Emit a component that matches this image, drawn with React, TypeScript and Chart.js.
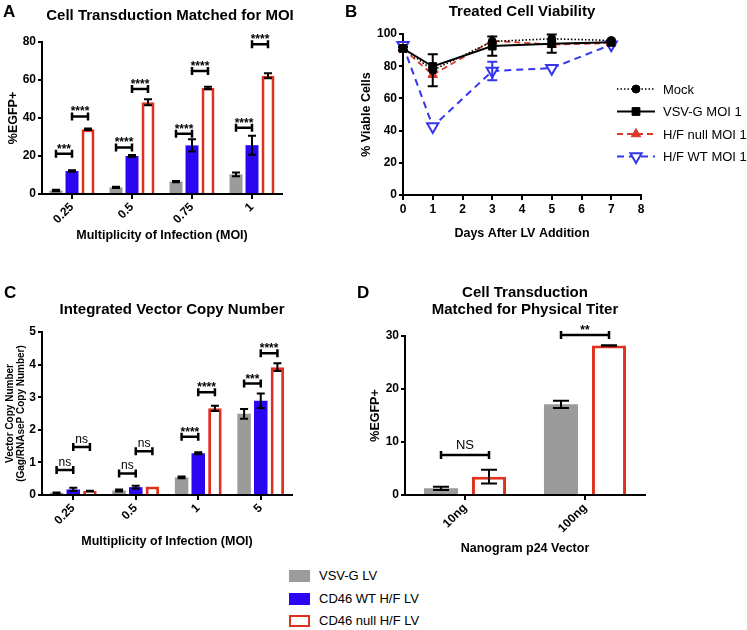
import React, { useEffect, useRef } from "react";
import { Chart, registerables } from "chart.js";

Chart.register(...registerables);

const FONT = '"Liberation Sans", Arial, Helvetica, sans-serif';
Chart.defaults.font.family = FONT;
Chart.defaults.color = "#000";

const GRAY = "#9b9b9b";
const BLUE = "#2a06f2";
const RED = "#e0301e";
const LINE_RED = "#d93a2c";
const LINE_BLUE = "#3535ee";

// ---------- Panel A: Cell Transduction Matched for MOI ----------
const moiA = ["0.25", "0.5", "0.75", "1"];
const vsvA = [1.9, 3.5, 6.5, 10.3];
const vsvAErr = [0.4, 0.3, 0.3, 1.0];
const wtA = [12.1, 20.0, 25.6, 25.7];
const wtAErr = [0.4, 0.5, 3.2, 5.0];
const nullA = [34.1, 48.3, 55.9, 62.2];
const nullAErr = [0.4, 1.6, 0.6, 1.3];
const yTicksA = [0, 20, 40, 60, 80];
// [category, datasetFrom, datasetTo, y, label]
const sigA: [number, number, number, number, string][] = [
  [0, 0, 1, 21.2, "***"],
  [0, 1, 2, 40.8, "****"],
  [1, 0, 1, 24.5, "****"],
  [1, 1, 2, 55.2, "****"],
  [2, 0, 1, 31.7, "****"],
  [2, 1, 2, 64.8, "****"],
  [3, 0, 1, 34.9, "****"],
  [3, 1, 2, 78.8, "****"],
];

// ---------- Panel B: Treated Cell Viability ----------
const daysB = [0, 1, 3, 5, 7];
const mockB = [91.3, 77.5, 95.4, 97.0, 96.0];
const mockBErr = [0, 10, 0, 0, 0];
const vsvB = [91.0, 79.8, 92.5, 94.0, 94.8];
const vsvBErr = [1, 0, 6, 5.7, 0];
const nullB = [90.8, 74.7, 95.8, 93.4, 94.4];
const nullBErr = [0, 0, 0, 0, 0];
const wtB = [93.0, 42.5, 77.0, 78.8, 93.4];
const wtBErr = [0, 0, 5.7, 0, 0];
const yTicksB = [0, 20, 40, 60, 80, 100];
const xTicksB = [0, 1, 2, 3, 4, 5, 6, 7, 8];
const seriesB = ["Mock", "VSV-G MOI 1", "H/F null MOI 1", "H/F WT MOI 1"];

// ---------- Panel C: Integrated Vector Copy Number ----------
const moiC = ["0.25", "0.5", "1", "5"];
const vsvC = [0.07, 0.14, 0.54, 2.49];
const vsvCErr = [0.01, 0.03, 0.03, 0.15];
const wtC = [0.17, 0.24, 1.28, 2.89];
const wtCErr = [0.05, 0.04, 0.03, 0.22];
const nullC = [0.12, 0.26, 2.66, 3.92];
const nullCErr = [0.01, 0, 0.08, 0.12];
const yTicksC = [0, 1, 2, 3, 4, 5];
const sigC: [number, number, number, number, string][] = [
  [0, 0, 1, 0.77, "ns"],
  [0, 1, 2, 1.47, "ns"],
  [1, 0, 1, 0.66, "ns"],
  [1, 1, 2, 1.34, "ns"],
  [2, 0, 1, 1.79, "****"],
  [2, 1, 2, 3.15, "****"],
  [3, 0, 1, 3.42, "***"],
  [3, 1, 2, 4.35, "****"],
];

// ---------- Panel D: Cell Transduction Matched for Physical Titer ----------
const doseD = ["10ng", "100ng"];
const vsvD = [1.26, 17.1];
const vsvDErr = [0.3, 0.7];
const nullD = [3.46, 28.2];
const nullDErr = [1.3, 0.05];
const yTicksD = [0, 10, 20, 30];
const sigD: [number, number, number, number, string][] = [
  [0, 0, 1, 7.55, "NS"],
  [1, 0, 1, 30.2, "**"],
];

const legendLabels = ["VSV-G LV", "CD46 WT H/F LV", "CD46 null H/F LV"];

// ---------- helpers ----------
type Sig = [number, number, number, number, string];

function makeAnnot(opt: {
  sig: Sig[];
  cap: number;
  errWidth: number;
  sigFont: number;
  sigGap: number;
  useDsColor?: boolean;
}) {
  return {
    id: "annot",
    afterDraw(chart: any) {
      const ctx = chart.ctx as CanvasRenderingContext2D;
      const ys = chart.scales.y;
      ctx.save();
      chart.data.datasets.forEach((ds: any, i: number) => {
        const errs = ds.errors as number[] | undefined;
        if (!errs) return;
        const meta = chart.getDatasetMeta(i);
        meta.data.forEach((el: any, j: number) => {
          const e = errs[j];
          if (!e) return;
          const raw = ds.data[j];
          const v = typeof raw === "number" ? raw : raw.y;
          const yt = ys.getPixelForValue(v + e);
          const yb = ys.getPixelForValue(v - e);
          ctx.strokeStyle = opt.useDsColor ? ds.borderColor : "#000";
          ctx.lineWidth = opt.errWidth;
          ctx.setLineDash([]);
          ctx.beginPath();
          ctx.moveTo(el.x, yt);
          ctx.lineTo(el.x, yb);
          ctx.moveTo(el.x - opt.cap / 2, yt);
          ctx.lineTo(el.x + opt.cap / 2, yt);
          ctx.moveTo(el.x - opt.cap / 2, yb);
          ctx.lineTo(el.x + opt.cap / 2, yb);
          ctx.stroke();
        });
      });
      opt.sig.forEach(([cat, a, b, yv, label]) => {
        const x1 = chart.getDatasetMeta(a).data[cat].x;
        const x2 = chart.getDatasetMeta(b).data[cat].x;
        const y = ys.getPixelForValue(yv);
        ctx.strokeStyle = "#000";
        ctx.lineWidth = 2.5;
        ctx.setLineDash([]);
        ctx.beginPath();
        ctx.moveTo(x1, y);
        ctx.lineTo(x2, y);
        ctx.moveTo(x1, y - 4);
        ctx.lineTo(x1, y + 4);
        ctx.moveTo(x2, y - 4);
        ctx.lineTo(x2, y + 4);
        ctx.stroke();
        const stars = label.includes("*");
        ctx.fillStyle = "#000";
        ctx.font = stars ? `bold 12px ${FONT}` : `${opt.sigFont}px ${FONT}`;
        ctx.textAlign = "center";
        ctx.textBaseline = "alphabetic";
        ctx.fillText(label, (x1 + x2) / 2, y - (stars ? 1 : opt.sigGap));
      });
      ctx.restore();
    },
  };
}

function drawMarker(ctx: CanvasRenderingContext2D, ds: any, x: number, y: number) {
  const r = ds.pointRadius;
  ctx.save();
  ctx.setLineDash([]);
  ctx.fillStyle = ds.pointBackgroundColor;
  ctx.strokeStyle = ds.pointBorderColor;
  ctx.lineWidth = ds.pointBorderWidth;
  ctx.beginPath();
  if (ds.pointStyle === "circle") {
    ctx.arc(x, y, r, 0, Math.PI * 2);
  } else if (ds.pointStyle === "rect") {
    const s = r * Math.SQRT1_2;
    ctx.rect(x - s, y - s, 2 * s, 2 * s);
  } else {
    let rad = ((ds.pointRotation || 0) * Math.PI) / 180;
    ctx.moveTo(x + Math.sin(rad) * r, y - Math.cos(rad) * r);
    rad += (2 * Math.PI) / 3;
    ctx.lineTo(x + Math.sin(rad) * r, y - Math.cos(rad) * r);
    rad += (2 * Math.PI) / 3;
    ctx.lineTo(x + Math.sin(rad) * r, y - Math.cos(rad) * r);
    ctx.closePath();
  }
  ctx.fill();
  ctx.stroke();
  ctx.restore();
}

const lineLegend = {
  id: "lineLegend",
  afterDraw(chart: any) {
    const ctx = chart.ctx as CanvasRenderingContext2D;
    const x0 = 262;
    const x1 = 300;
    const tx = 308;
    const y0 = 89;
    const dy = 22.5;
    chart.data.datasets.forEach((ds: any, i: number) => {
      const y = y0 + i * dy;
      ctx.save();
      ctx.strokeStyle = ds.borderColor;
      ctx.lineWidth = ds.borderWidth;
      ctx.setLineDash(ds.borderDash || []);
      ctx.beginPath();
      ctx.moveTo(x0, y);
      ctx.lineTo(x1, y);
      ctx.stroke();
      ctx.restore();
      drawMarker(ctx, ds, (x0 + x1) / 2, y);
      ctx.save();
      ctx.fillStyle = "#000";
      ctx.font = `13px ${FONT}`;
      ctx.textAlign = "left";
      ctx.textBaseline = "middle";
      ctx.fillText(ds.label, tx, y + 1);
      ctx.restore();
    });
  },
};

const tickFont = { size: 12, weight: "bold" as const };
const titleFont = { size: 12.5, weight: "bold" as const };

function yAxis(ticks: number[], width: number, title: any) {
  return {
    type: "linear",
    min: ticks[0],
    max: ticks[ticks.length - 1],
    ticks: { stepSize: ticks[1] - ticks[0], font: tickFont, color: "#000", padding: 2 },
    grid: { display: true, drawOnChartArea: false, drawTicks: true, tickLength: 4, color: "#000", lineWidth: 2 },
    border: { display: true, color: "#000", width: 2 },
    title,
    afterFit: (s: any) => {
      s.width = width;
    },
  };
}

function xCatAxis(height: number, title: string) {
  return {
    type: "category",
    offset: true,
    ticks: { minRotation: 45, maxRotation: 45, autoSkip: false, font: tickFont, color: "#000", padding: 1 },
    grid: { display: true, offset: false, drawOnChartArea: false, drawTicks: true, tickLength: 5, color: "#000", lineWidth: 2 },
    border: { display: true, color: "#000", width: 2 },
    title: { display: true, text: title, font: titleFont, color: "#000", padding: { top: 0, bottom: 0 } },
    afterFit: (s: any) => {
      s.height = height;
    },
  };
}

function baseOptions(padding: any, scales: any) {
  return {
    responsive: false,
    animation: false,
    devicePixelRatio: 1,
    layout: { padding },
    plugins: { legend: { display: false }, tooltip: { enabled: false }, title: { display: false } },
    scales,
  };
}

function barDs(label: string, data: number[], errors: number[], kind: "gray" | "blue" | "red", bp: number) {
  const common: any = {
    label,
    data,
    errors,
    barPercentage: bp,
    categoryPercentage: 0.8,
  };
  if (kind === "red") {
    return { ...common, backgroundColor: "#ffffff", borderColor: RED, borderWidth: 3 };
  }
  return { ...common, backgroundColor: kind === "gray" ? GRAY : BLUE, borderWidth: 0, borderColor: "#000" };
}

function configA() {
  return {
    type: "bar",
    data: {
      labels: moiA,
      datasets: [
        barDs(legendLabels[0], vsvA, vsvAErr, "gray", 0.81),
        barDs(legendLabels[1], wtA, wtAErr, "blue", 0.81),
        barDs(legendLabels[2], nullA, nullAErr, "red", 0.81),
      ],
    },
    options: baseOptions(
      { top: 42, right: 18, left: 0, bottom: 0 },
      {
        x: xCatAxis(49, "Multiplicity of Infection (MOI)"),
        y: yAxis(yTicksA, 42, {
          display: true,
          text: "%EGFP+",
          font: titleFont,
          color: "#000",
          padding: { top: 6.5, bottom: 0 },
        }),
      }
    ),
    plugins: [makeAnnot({ sig: sigA, cap: 8, errWidth: 2, sigFont: 12, sigGap: 4 })],
  };
}

function lineDs(label: string, ys: number[], errs: number[], style: any) {
  return {
    label,
    data: daysB.map((d, i) => ({ x: d, y: ys[i] })),
    errors: errs,
    tension: 0,
    clip: false,
    fill: false,
    ...style,
  };
}

function configB() {
  return {
    type: "line",
    data: {
      datasets: [
        lineDs(seriesB[0], mockB, mockBErr, {
          borderColor: "#000",
          borderWidth: 1.6,
          borderDash: [1.5, 2],
          pointStyle: "circle",
          pointRadius: 4,
          pointBackgroundColor: "#000",
          pointBorderColor: "#000",
          pointBorderWidth: 1,
        }),
        lineDs(seriesB[1], vsvB, vsvBErr, {
          borderColor: "#000",
          borderWidth: 2,
          borderDash: [],
          pointStyle: "rect",
          pointRadius: 5.5,
          pointBackgroundColor: "#000",
          pointBorderColor: "#000",
          pointBorderWidth: 1,
        }),
        lineDs(seriesB[2], nullB, nullBErr, {
          borderColor: LINE_RED,
          borderWidth: 1.8,
          borderDash: [6, 4],
          pointStyle: "triangle",
          pointRadius: 5.5,
          pointRotation: 0,
          pointBackgroundColor: LINE_RED,
          pointBorderColor: LINE_RED,
          pointBorderWidth: 1,
        }),
        lineDs(seriesB[3], wtB, wtBErr, {
          borderColor: LINE_BLUE,
          borderWidth: 2,
          borderDash: [7, 5],
          pointStyle: "triangle",
          pointRadius: 6.5,
          pointRotation: 180,
          pointBackgroundColor: "#ffffff",
          pointBorderColor: LINE_BLUE,
          pointBorderWidth: 2,
        }),
      ],
    },
    options: baseOptions(
      { top: 34, right: 106, left: 0, bottom: 0 },
      {
        x: {
          type: "linear",
          min: xTicksB[0],
          max: xTicksB[xTicksB.length - 1],
          ticks: { stepSize: xTicksB[1] - xTicksB[0], font: tickFont, color: "#000", padding: 2 },
          grid: { display: true, drawOnChartArea: false, drawTicks: true, tickLength: 5, color: "#000", lineWidth: 2 },
          border: { display: true, color: "#000", width: 2 },
          title: { display: true, text: "Days After LV Addition", font: titleFont, color: "#000", padding: { top: 0, bottom: 0 } },
          afterFit: (s: any) => {
            s.height = 46;
          },
        },
        y: yAxis(yTicksB, 48, {
          display: true,
          text: "% Viable Cells",
          font: titleFont,
          color: "#000",
          padding: { top: 4.5, bottom: 0 },
        }),
      }
    ),
    plugins: [makeAnnot({ sig: [], cap: 10, errWidth: 2, sigFont: 12, sigGap: 4, useDsColor: true }), lineLegend],
  };
}

function configC() {
  return {
    type: "bar",
    data: {
      labels: moiC,
      datasets: [
        barDs(legendLabels[0], vsvC, vsvCErr, "gray", 0.81),
        barDs(legendLabels[1], wtC, wtCErr, "blue", 0.81),
        barDs(legendLabels[2], nullC, nullCErr, "red", 0.81),
      ],
    },
    options: baseOptions(
      { top: 32, right: 18, left: 0, bottom: 0 },
      {
        x: xCatAxis(54, "Multiplicity of Infection (MOI)"),
        y: yAxis(yTicksC, 42, {
          display: true,
          text: ["Vector Copy Number", "(Gag/RNAseP Copy Number)"],
          font: { size: 10, weight: "bold", lineHeight: 1.15 },
          color: "#000",
          padding: { top: 4, bottom: 0 },
        }),
      }
    ),
    plugins: [makeAnnot({ sig: sigC, cap: 8, errWidth: 2, sigFont: 12, sigGap: 4 })],
  };
}

function configD() {
  return {
    type: "bar",
    data: {
      labels: doseD,
      datasets: [
        barDs(legendLabels[0], vsvD, vsvDErr, "gray", 0.71),
        barDs(legendLabels[2], nullD, nullDErr, "red", 0.71),
      ],
    },
    options: baseOptions(
      { top: 56, right: 20, left: 0, bottom: 0 },
      {
        x: xCatAxis(61, "Nanogram p24 Vector"),
        y: yAxis(yTicksD, 50, {
          display: true,
          text: "%EGFP+",
          font: titleFont,
          color: "#000",
          padding: { top: 13.5, bottom: 0 },
        }),
      }
    ),
    plugins: [makeAnnot({ sig: sigD, cap: 16, errWidth: 2, sigFont: 13, sigGap: 6 })],
  };
}

function ChartBox(props: { left: number; top: number; width: number; height: number; make: () => any }) {
  const ref = useRef<HTMLCanvasElement | null>(null);
  useEffect(() => {
    if (!ref.current) return;
    const chart = new Chart(ref.current, props.make());
    return () => chart.destroy();
  }, []);
  return (
    <canvas
      ref={ref}
      width={props.width}
      height={props.height}
      style={{ position: "absolute", left: props.left, top: props.top, width: props.width, height: props.height }}
    />
  );
}

const titleStyle: React.CSSProperties = {
  position: "absolute",
  transform: "translateX(-50%)",
  whiteSpace: "nowrap",
  fontWeight: "bold",
  fontSize: 15,
  lineHeight: "17px",
  textAlign: "center",
  color: "#000",
};

const letterStyle: React.CSSProperties = {
  position: "absolute",
  fontWeight: "bold",
  fontSize: 17,
  lineHeight: "17px",
  color: "#000",
};

export default function App() {
  const legendColors = [
    { background: GRAY, border: "none" },
    { background: BLUE, border: "none" },
    { background: "#fff", border: `2.5px solid ${RED}` },
  ];
  const legendTops = [570, 593, 615];
  return (
    <div
      style={{
        position: "absolute",
        left: 0,
        top: 0,
        width: 747,
        height: 630,
        background: "#fff",
        fontFamily: FONT,
        overflow: "hidden",
      }}
    >
      <ChartBox left={0} top={0} width={300} height={243} make={configA} />
      <ChartBox left={355} top={0} width={392} height={241} make={configB} />
      <ChartBox left={0} top={300} width={310} height={249} make={configC} />
      <ChartBox left={355} top={280} width={310} height={276} make={configD} />

      <div style={{ ...letterStyle, left: 3, top: 3 }}>A</div>
      <div style={{ ...letterStyle, left: 345, top: 3 }}>B</div>
      <div style={{ ...letterStyle, left: 4, top: 284 }}>C</div>
      <div style={{ ...letterStyle, left: 357, top: 284 }}>D</div>

      <div style={{ ...titleStyle, left: 170, top: 6 }}>Cell Transduction Matched for MOI</div>
      <div style={{ ...titleStyle, left: 522, top: 1.5 }}>Treated Cell Viability</div>
      <div style={{ ...titleStyle, left: 172, top: 299.5 }}>Integrated Vector Copy Number</div>
      <div style={{ ...titleStyle, left: 525, top: 283 }}>
        Cell Transduction
        <br />
        Matched for Physical Titer
      </div>

      {legendLabels.map((lab, i) => (
        <div key={lab}>
          <div
            style={{
              position: "absolute",
              left: 289,
              top: legendTops[i],
              width: 21,
              height: 12,
              boxSizing: "border-box",
              ...legendColors[i],
            }}
          />
          <div
            style={{
              position: "absolute",
              left: 319,
              top: legendTops[i],
              fontSize: 13,
              lineHeight: "12px",
              whiteSpace: "nowrap",
              color: "#000",
            }}
          >
            {lab}
          </div>
        </div>
      ))}
    </div>
  );
}
